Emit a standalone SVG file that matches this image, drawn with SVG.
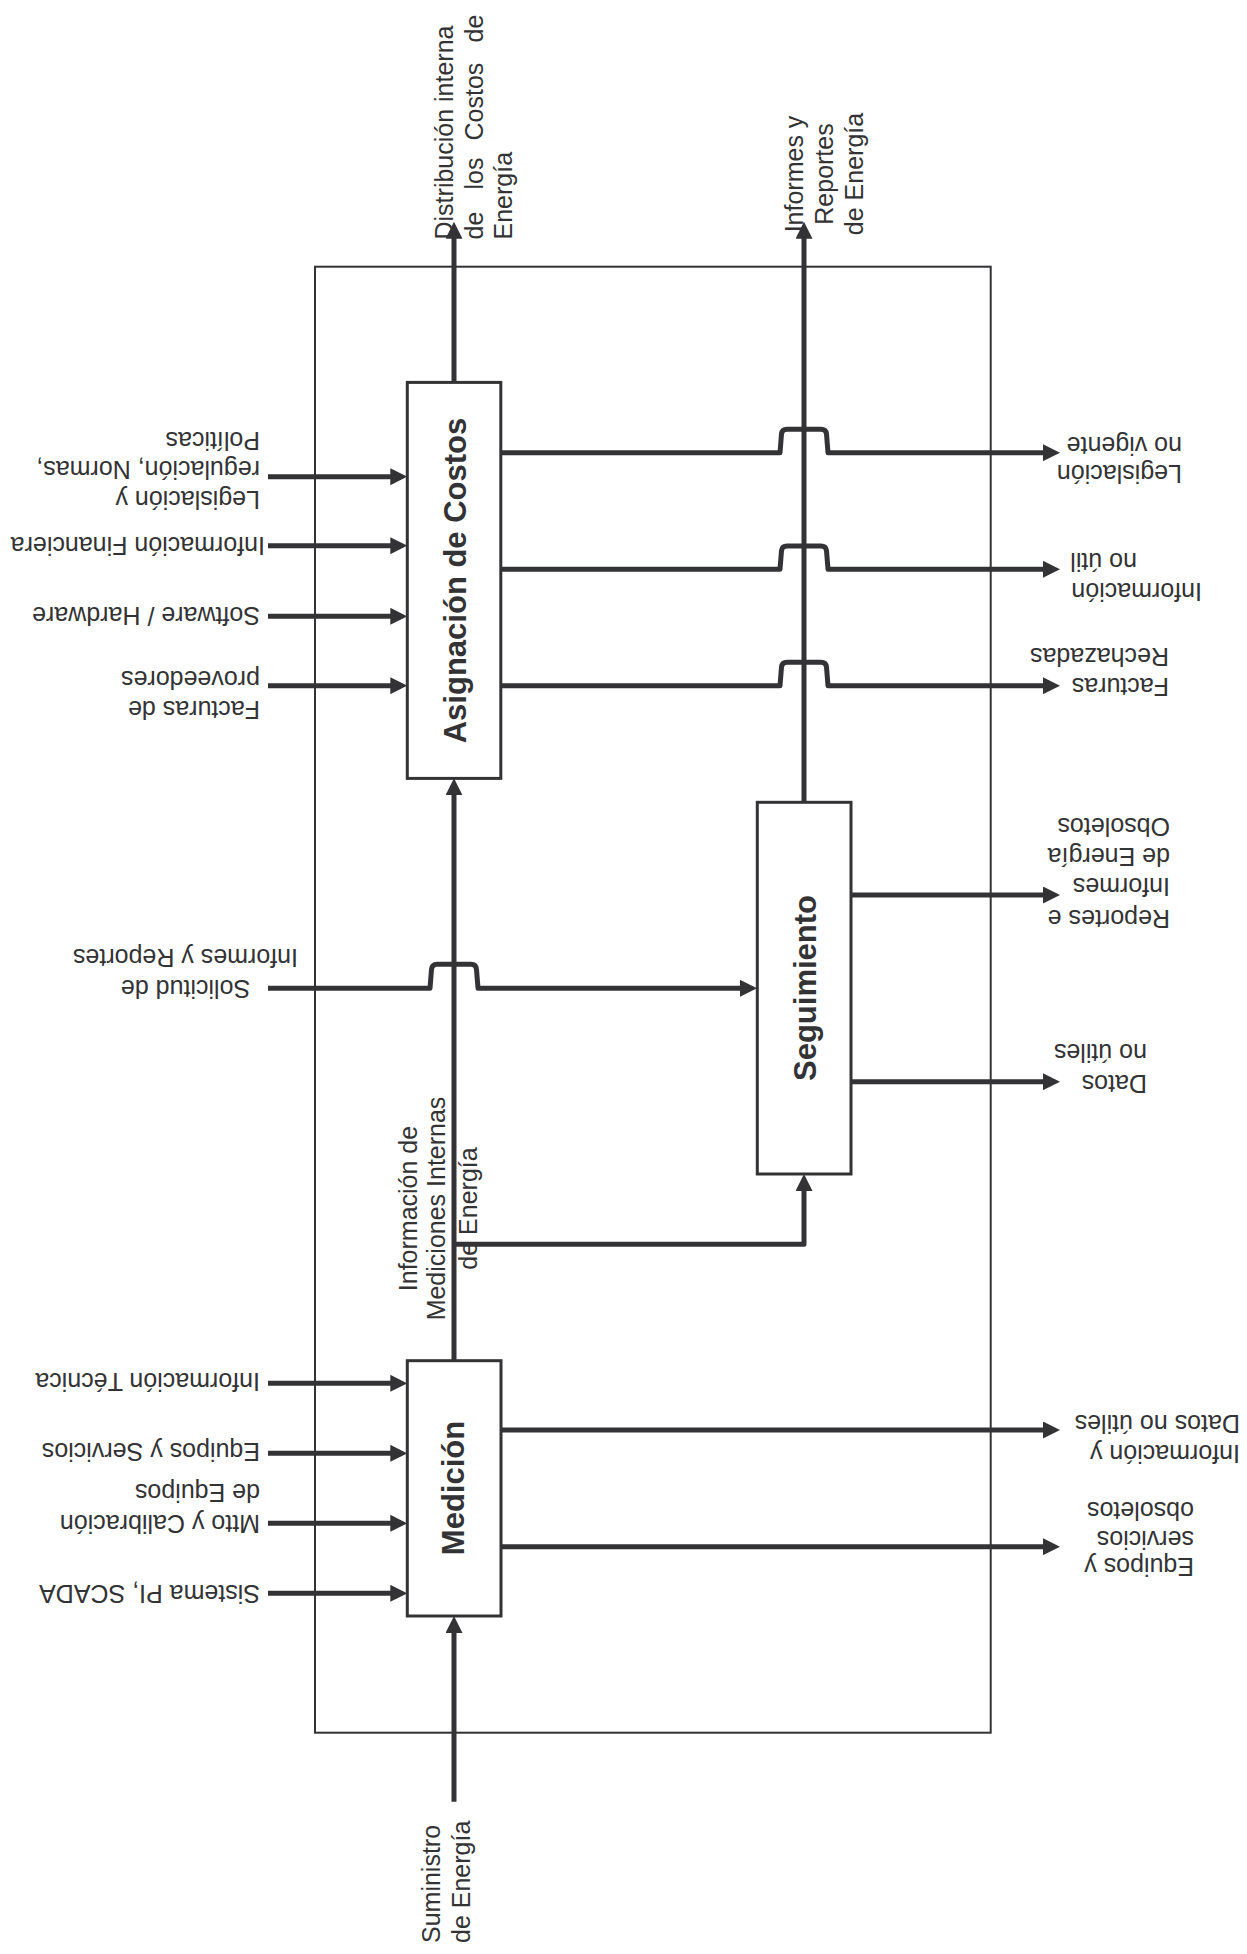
<svg xmlns="http://www.w3.org/2000/svg" width="1247" height="1954" viewBox="0 0 1247 1954">
  <style>
    .frame { fill: none; stroke: #333335; stroke-width: 2; }
    .box { fill: #ffffff; stroke: #333335; stroke-width: 3; }
    .flow { fill: none; stroke: #333335; stroke-width: 5; stroke-linejoin: round; marker-end: url(#ah); }
    .flow-plain { fill: none; stroke: #333335; stroke-width: 5; stroke-linejoin: round; }
    text { font-family: "Liberation Sans", Arial, Helvetica, sans-serif; fill: #333335; }
    .lbl { font-size: 25px; }
    .title { font-size: 31px; font-weight: bold; text-anchor: middle; }
    .mid { text-anchor: middle; }
  </style>
  <defs>
    <marker id="ah" markerUnits="userSpaceOnUse" viewBox="0 0 17 17" markerWidth="17" markerHeight="17" refX="5" refY="8.5" orient="auto">
      <path d="M0,0 L17,8.5 L0,17 z" fill="#333335"/>
    </marker>
  </defs>

  <rect width="1247" height="1954" fill="#ffffff"/>

  <!-- system boundary -->
  <rect class="frame" x="315" y="266.7" width="675.7" height="1466"/>

  <!-- flows -->
  <g id="connectors">
    <!-- inputs to Asignación de Costos -->
    <path class="flow" d="M268,476.7 H395.3"/>
    <path class="flow" d="M268,545.7 H395.3"/>
    <path class="flow" d="M268,616.3 H395.3"/>
    <path class="flow" d="M268,685.7 H395.3"/>
    <!-- inputs to Medición -->
    <path class="flow" d="M268,1383.3 H395.3"/>
    <path class="flow" d="M268,1453.3 H395.3"/>
    <path class="flow" d="M268,1523.3 H395.3"/>
    <path class="flow" d="M268,1593.3 H395.3"/>
    <!-- supply into Medición -->
    <path class="flow" d="M454,1801.7 V1628"/>
    <!-- Medición to Asignación de Costos -->
    <path class="flow" d="M454,1360.7 V790.3"/>
    <!-- branch to Seguimiento -->
    <path class="flow" d="M454,1244.3 H804 V1186"/>
    <!-- top outputs -->
    <path class="flow" d="M454,382.4 V233.7"/>
    <path class="flow" d="M804,802.3 V233.7"/>
    <!-- request into Seguimiento, hopping over the vertical flow -->
    <path class="flow" d="M268,988.3 H430 L431.5,969.5 Q432,964.3 437,964.3 H471 Q476,964.3 476.5,969.5 L478,988.3 H745"/>
    <!-- outputs of Asignación de Costos, hopping over the vertical flow -->
    <path class="flow" d="M501,452.7 H780 L781.5,434 Q782,429.3 787,429.3 H821 Q826,429.3 826.5,434 L828,452.7 H1048"/>
    <path class="flow" d="M501,569.3 H780 L781.5,550.6 Q782,545.9 787,545.9 H821 Q826,545.9 826.5,550.6 L828,569.3 H1048"/>
    <path class="flow" d="M501,685.7 H780 L781.5,667 Q782,662.3 787,662.3 H821 Q826,662.3 826.5,667 L828,685.7 H1048"/>
    <!-- outputs of Seguimiento -->
    <path class="flow" d="M851,895 H1048"/>
    <path class="flow" d="M851,1081.7 H1048"/>
    <!-- outputs of Medición -->
    <path class="flow" d="M501,1430 H1048"/>
    <path class="flow" d="M501,1546.7 H1048"/>
  </g>

  <!-- process blocks -->
  <g id="asignacion">
    <rect class="box" x="407.3" y="382.4" width="93.5" height="396"/>
    <text class="title" transform="translate(466,580.5) rotate(-90)">Asignación de Costos</text>
  </g>
  <g id="seguimiento">
    <rect class="box" x="757.3" y="802.3" width="93.7" height="371.7"/>
    <text class="title" transform="translate(816,988) rotate(-90)">Seguimiento</text>
  </g>
  <g id="medicion">
    <rect class="box" x="407.3" y="1360.7" width="93.7" height="255.3"/>
    <text class="title" transform="translate(464,1488) rotate(-90)">Medición</text>
  </g>

  <!-- flow labels: vertical -->
  <g id="lbl-distribucion" class="lbl">
    <text transform="translate(453.3,239.5) rotate(-90)">Distribución interna</text>
    <text transform="translate(483.3,239.5) rotate(-90)"><tspan x="0">de</tspan><tspan x="50">los</tspan><tspan x="99">Costos</tspan><tspan x="197">de</tspan></text>
    <text transform="translate(511.7,239.5) rotate(-90)">Energía</text>
  </g>
  <g id="lbl-informes" class="lbl">
    <text class="mid" transform="translate(803.3,174) rotate(-90)">Informes y</text>
    <text class="mid" transform="translate(833.3,174) rotate(-90)">Reportes</text>
    <text class="mid" transform="translate(863.3,174) rotate(-90)">de Energía</text>
  </g>
  <g id="lbl-mediciones" class="lbl">
    <text class="mid" transform="translate(416.7,1208.5) rotate(-90)">Información de</text>
    <text class="mid" transform="translate(445,1208.5) rotate(-90)">Mediciones Internas</text>
    <text class="mid" transform="translate(476.7,1208.5) rotate(-90)">de Energía</text>
  </g>
  <g id="lbl-suministro" class="lbl">
    <text transform="translate(440,1943) rotate(-90)">Suministro</text>
    <text transform="translate(470,1943) rotate(-90)">de Energía</text>
  </g>

  <!-- flow labels: inputs on the left (printed upside down) -->
  <g id="lbl-legislacion" class="lbl">
    <text transform="translate(260,490.5) rotate(180)">Legislación y</text>
    <text transform="translate(260,461) rotate(180)">regulación, Normas,</text>
    <text transform="translate(260,432) rotate(180)">Políticas</text>
  </g>
  <g id="lbl-finanzas" class="lbl">
    <text transform="translate(265,536.7) rotate(180)">Información Financiera</text>
  </g>
  <g id="lbl-software" class="lbl">
    <text transform="translate(260,606.7) rotate(180)">Software / Hardware</text>
  </g>
  <g id="lbl-facturas" class="lbl">
    <text transform="translate(260,701) rotate(180)">Facturas de</text>
    <text transform="translate(260,671) rotate(180)">proveedores</text>
  </g>
  <g id="lbl-solicitud" class="lbl">
    <text class="mid" transform="translate(185.5,979.5) rotate(180)">Solicitud de</text>
    <text class="mid" transform="translate(185.5,948.5) rotate(180)">Informes y Reportes</text>
  </g>
  <g id="lbl-tecnica" class="lbl">
    <text transform="translate(260,1373.3) rotate(180)">Información Técnica</text>
  </g>
  <g id="lbl-equipos" class="lbl">
    <text transform="translate(260,1443.3) rotate(180)">Equipos y Servicios</text>
  </g>
  <g id="lbl-mtto" class="lbl">
    <text transform="translate(260,1515) rotate(180)">Mtto y Calibración</text>
    <text transform="translate(260,1484) rotate(180)">de Equipos</text>
  </g>
  <g id="lbl-sistema" class="lbl">
    <text transform="translate(260,1585) rotate(180)">Sistema PI, SCADA</text>
  </g>

  <!-- flow labels: outputs on the right (printed upside down) -->
  <g id="lbl-legis-novigente" class="lbl">
    <text transform="translate(1182,465) rotate(180)">Legislación</text>
    <text transform="translate(1182,437) rotate(180)">no vigente</text>
  </g>
  <g id="lbl-info-noutil" class="lbl">
    <text transform="translate(1202,583.3) rotate(180)">Información</text>
    <text transform="translate(1137,553.3) rotate(180)">no útil</text>
  </g>
  <g id="lbl-rechazadas" class="lbl">
    <text transform="translate(1169,678.3) rotate(180)">Facturas</text>
    <text transform="translate(1169,648.3) rotate(180)">Rechazadas</text>
  </g>
  <g id="lbl-obsoletos" class="lbl">
    <text transform="translate(1170,910) rotate(180)">Reportes e</text>
    <text transform="translate(1170,878.3) rotate(180)">Informes</text>
    <text transform="translate(1170,848.3) rotate(180)">de Energía</text>
    <text transform="translate(1170,818.3) rotate(180)">Obsoletos</text>
  </g>
  <g id="lbl-datos" class="lbl">
    <text transform="translate(1147,1075) rotate(180)">Datos</text>
    <text transform="translate(1147,1044) rotate(180)">no útiles</text>
  </g>
  <g id="lbl-info-datos" class="lbl">
    <text transform="translate(1240,1445) rotate(180)">Información y</text>
    <text transform="translate(1240,1415) rotate(180)">Datos no útiles</text>
  </g>
  <g id="lbl-equipos-obs" class="lbl">
    <text transform="translate(1194,1558.3) rotate(180)">Equipos y</text>
    <text transform="translate(1194,1530.5) rotate(180)">servicios</text>
    <text transform="translate(1194,1501.7) rotate(180)">obsoletos</text>
  </g>
</svg>
